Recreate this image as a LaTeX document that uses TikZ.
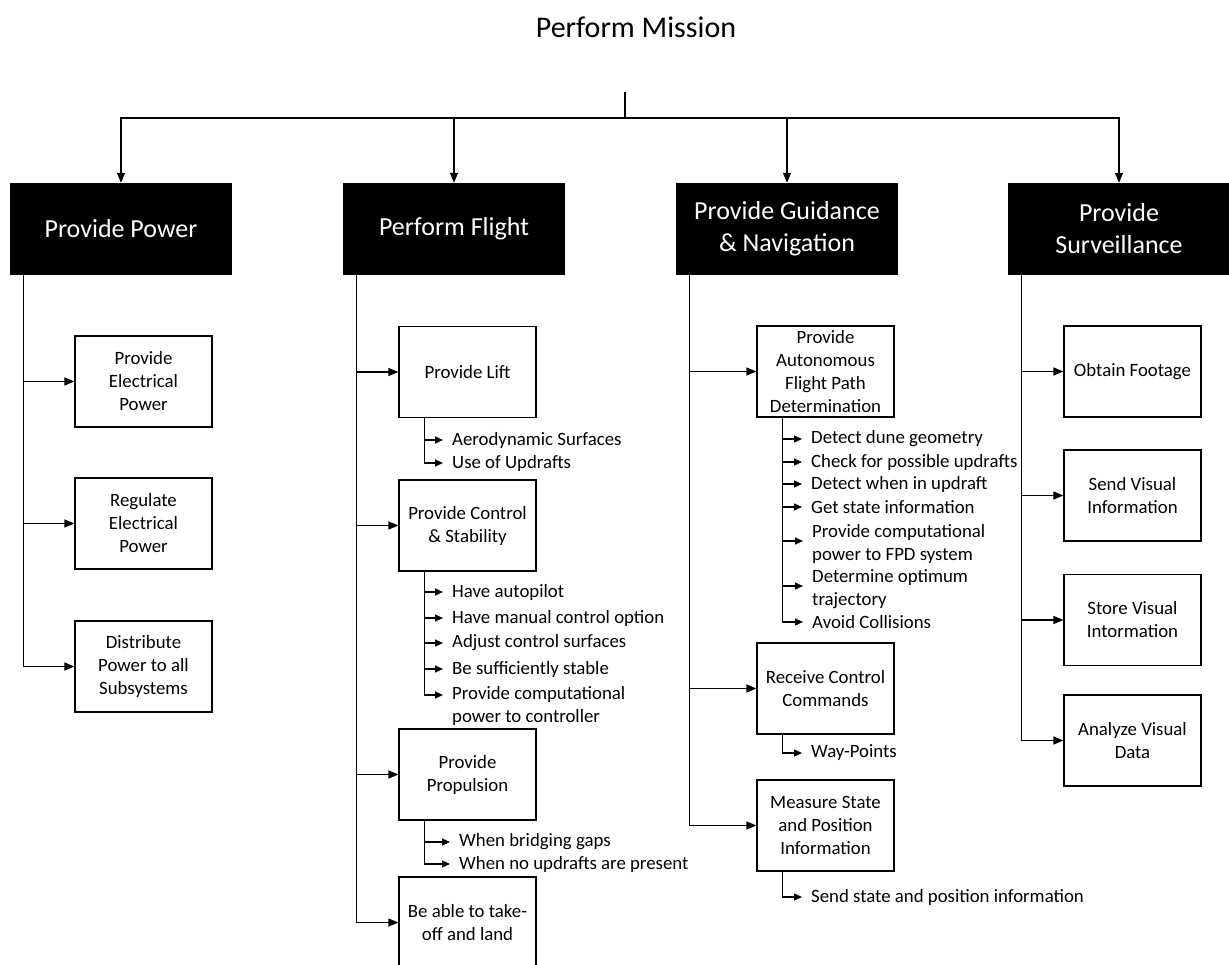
\documentclass[tikz,border=0pt]{standalone}
\usepackage{fontspec}
\setmainfont{Carlito}
\usetikzlibrary{arrows.meta,positioning}

\begin{document}
\begin{tikzpicture}[x=1pt, y=-1pt,
  every node/.style={font=\fontsize{18.8}{23}\selectfont},
  head/.style={fill=black, text=white, minimum width=222pt, minimum height=92pt,
               align=center, inner sep=0pt, font=\fontsize{26}{32}\selectfont},
  fbox/.style={draw=black, line width=1.2pt, minimum width=137pt, minimum height=91pt,
               align=center, inner sep=0pt},
  item/.style={anchor=west, inner xsep=9pt, inner ysep=0pt, align=left},
  link/.style={line width=1.2pt},
  arrow/.style={link, -{Triangle[length=10pt,width=8pt]}},
  small/.style={link, -{Triangle[length=8pt,width=7pt]}},
]
\useasboundingbox (0,0) rectangle (1229,965);

%% ── Title and top bus ────────────────────────────────────────────────────────
\node[font=\fontsize{30}{36}\selectfont, anchor=base] (mission) at (636,38) {Perform Mission};
\coordinate (top) at (625,92);
\coordinate (bus) at (625,118);

%% ── Top-level functions ──────────────────────────────────────────────────────
\node[head] (power)  at (121,229)  {Provide Power};
\node[head] (flight) at (454,229)  {Perform Flight};
\node[head] (guide)  at (787,229)  {Provide Guidance\\\& Navigation};
\node[head] (surv)   at (1119,229) {Provide\\Surveillance};

\draw[link] (top) -- (bus);
\draw[arrow] (bus) -| (power.north);
\draw[arrow] (bus) -| (flight.north);
\draw[arrow] (bus) -| (guide.north);
\draw[arrow] (bus) -| (surv.north);

%% ── Provide Power ────────────────────────────────────────────────────────────
\node[fbox] (pel)  at (143.5,381.5) {Provide\\Electrical\\Power};
\node[fbox] (rel)  at (143.5,523.5) {Regulate\\Electrical\\Power};
\node[fbox] (dist) at (143.5,666.5) {Distribute\\Power to all\\Subsystems};

\draw[arrow] ([xshift=14pt]power.south west) |- (pel.west);
\draw[arrow] ([xshift=14pt]power.south west) |- (rel.west);
\draw[arrow] ([xshift=14pt]power.south west) |- (dist.west);

%% ── Perform Flight ───────────────────────────────────────────────────────────
\node[fbox] (lift) at (467.5,372)   {Provide Lift};
\node[fbox] (ctrl) at (467.5,525.5) {Provide Control\\\& Stability};
\node[fbox] (prop) at (467.5,774.5) {Provide\\Propulsion};
\node[fbox] (land) at (467.5,922.5) {Be able to take-\\off and land};

\draw[arrow] ([xshift=14pt]flight.south west) |- (lift.west);
\draw[arrow] ([xshift=14pt]flight.south west) |- (ctrl.west);
\draw[arrow] ([xshift=14pt]flight.south west) |- (prop.west);
\draw[arrow] ([xshift=14pt]flight.south west) |- (land.west);

\node[item] (aero) at (443,440) {Aerodynamic Surfaces};
\node[item] (updr) at (443,463) {Use of Updrafts};
\draw[small] ([xshift=26pt]lift.south west) |- (aero.west);
\draw[small] ([xshift=26pt]lift.south west) |- (updr.west);

\node[item] (auto)  at (443,592) {Have autopilot};
\node[item] (manu)  at (443,618) {Have manual control option};
\node[item] (adj)   at (443,643) {Adjust control surfaces};
\node[item] (stab)  at (443,669) {Be sufficiently stable};
\node[item] (pcomp) at (443,706) {Provide computational\\power to controller};
\draw[small] ([xshift=26pt]ctrl.south west) |- (auto.west);
\draw[small] ([xshift=26pt]ctrl.south west) |- (manu.west);
\draw[small] ([xshift=26pt]ctrl.south west) |- (adj.west);
\draw[small] ([xshift=26pt]ctrl.south west) |- (stab.west);
\draw[small] ([xshift=26pt]ctrl.south west) |- ([yshift=11pt]pcomp.west);

\node[item] (gaps) at (450,842) {When bridging gaps};
\node[item] (noup) at (450,864) {When no updrafts are present};
\draw[small] ([xshift=26pt]prop.south west) |- (gaps.west);
\draw[small] ([xshift=26pt]prop.south west) |- (noup.west);

%% ── Provide Guidance & Navigation ────────────────────────────────────────────
\node[fbox] (fpd) at (825.5,371.5) {Provide\\Autonomous\\Flight Path\\Determination};
\node[fbox] (rcc) at (825.5,688.5) {Receive Control\\Commands};
\node[fbox] (msp) at (825.5,825.5) {Measure State\\and Position\\Information};

\draw[arrow] ([xshift=14pt]guide.south west) |- (fpd.west);
\draw[arrow] ([xshift=14pt]guide.south west) |- (rcc.west);
\draw[arrow] ([xshift=14pt]guide.south west) |- (msp.west);

\node[item] (dune)  at (802,439) {Detect dune geometry};
\node[item] (check) at (802,462) {Check for possible updrafts};
\node[item] (inup)  at (802,484) {Detect when in updraft};
\node[item] (state) at (802,507) {Get state information};
\node[item] (fcomp) at (803,544) {Provide computational\\power to FPD system};
\node[item] (optim) at (803,589) {Determine optimum\\trajectory};
\node[item] (avoid) at (803,622) {Avoid Collisions};
\draw[small] ([xshift=26pt]fpd.south west) |- (dune.west);
\draw[small] ([xshift=26pt]fpd.south west) |- (check.west);
\draw[small] ([xshift=26pt]fpd.south west) |- (inup.west);
\draw[small] ([xshift=26pt]fpd.south west) |- (state.west);
\draw[small] ([xshift=26pt]fpd.south west) |- ([yshift=3pt]fcomp.west);
\draw[small] ([xshift=26pt]fpd.south west) |- ([yshift=3pt]optim.west);
\draw[small] ([xshift=26pt]fpd.south west) |- (avoid.west);

\node[item] (wayp) at (802,753) {Way-Points};
\draw[small] ([xshift=26pt]rcc.south west) |- (wayp.west);

\node[item] (send) at (802,897) {Send state and position information};
\draw[small] ([xshift=26pt]msp.south west) |- (send.west);

%% ── Provide Surveillance ─────────────────────────────────────────────────────
\node[fbox] (foot)  at (1132.5,371.5) {Obtain Footage};
\node[fbox] (svis)  at (1132.5,495.5) {Send Visual\\Information};
\node[fbox] (store) at (1132.5,620)   {Store Visual\\Intormation};
\node[fbox] (anal)  at (1132.5,740.5) {Analyze Visual\\Data};

\draw[arrow] ([xshift=14pt]surv.south west) |- (foot.west);
\draw[arrow] ([xshift=14pt]surv.south west) |- (svis.west);
\draw[arrow] ([xshift=14pt]surv.south west) |- (store.west);
\draw[arrow] ([xshift=14pt]surv.south west) |- (anal.west);

\end{tikzpicture}
\end{document}
